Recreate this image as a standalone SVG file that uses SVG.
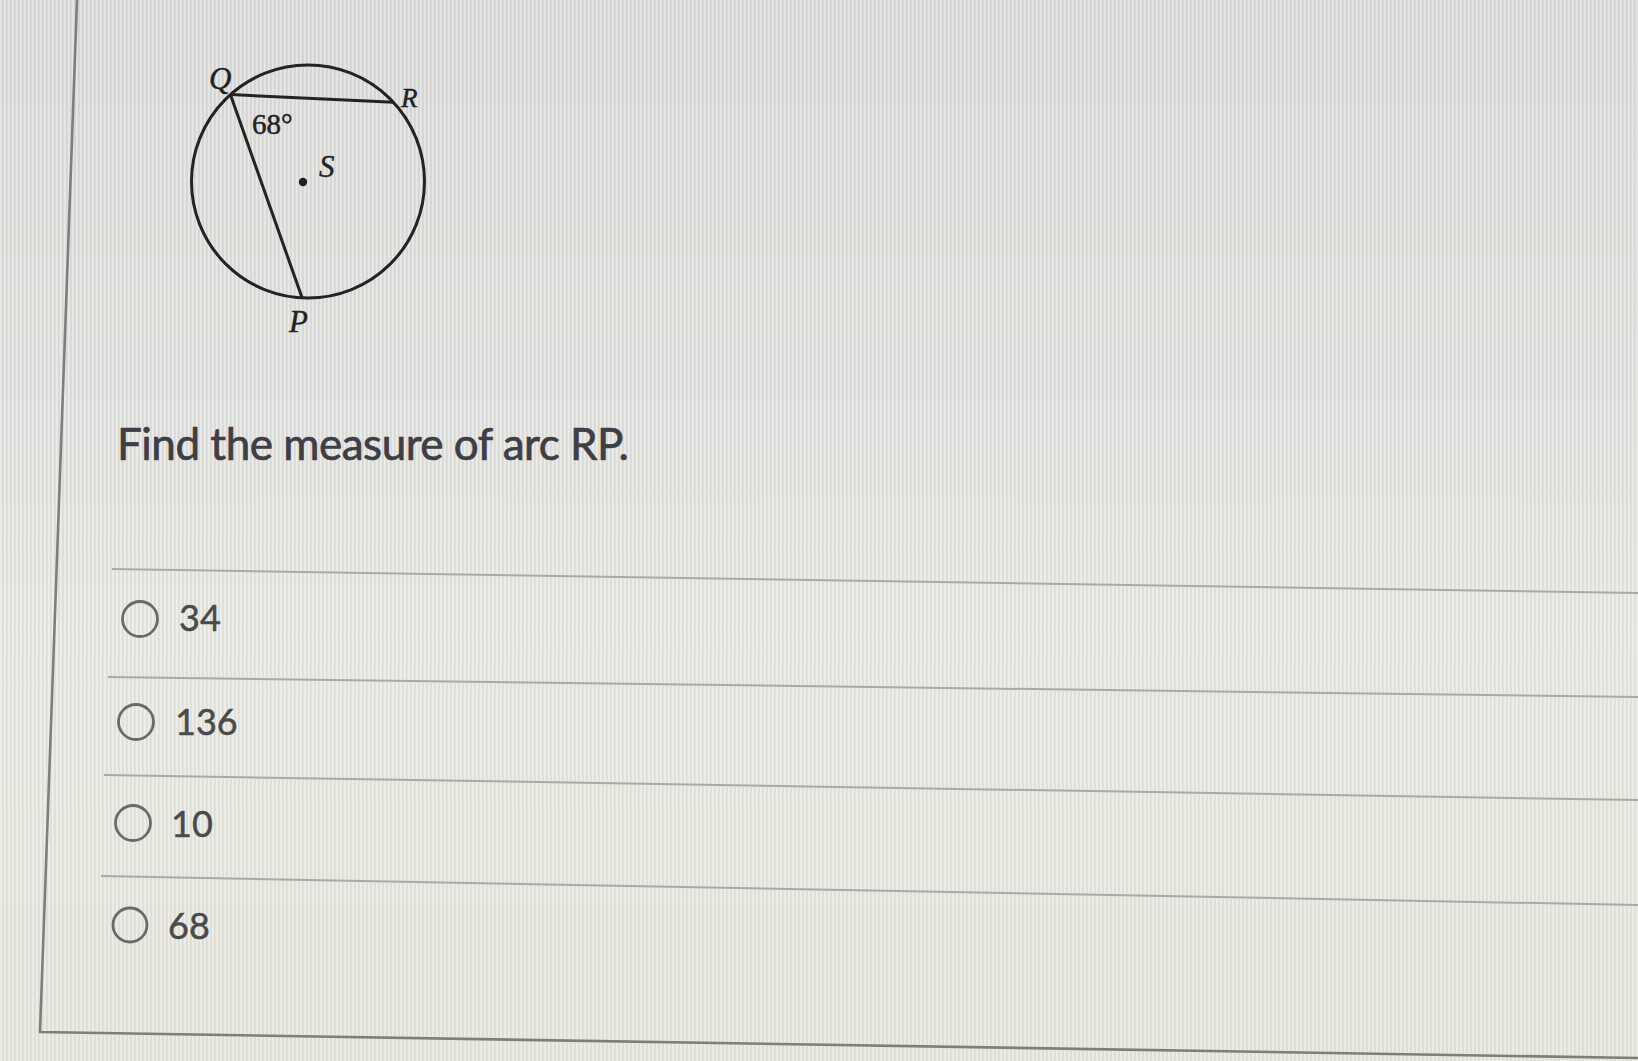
<svg xmlns="http://www.w3.org/2000/svg" width="1638" height="1061" viewBox="0 0 1638 1061">
  <defs>
    <linearGradient id="bg" x1="0" y1="0" x2="0" y2="1">
      <stop offset="0" stop-color="#d8d8d7"/>
      <stop offset="0.4" stop-color="#dfdfdc"/>
      <stop offset="0.6" stop-color="#e6e6e0"/>
      <stop offset="1" stop-color="#e4e4da"/>
    </linearGradient>
    <pattern id="stripes" width="4" height="8" patternUnits="userSpaceOnUse">
      <rect x="0" y="0" width="1.6" height="8" fill="#ffffff" opacity="0.35"/>
      <rect x="2.4" y="0" width="1" height="8" fill="#9a9a90" opacity="0.12"/>
    </pattern>
    <style>
      .label { font-family: "Liberation Serif", "Times New Roman", serif; font-style: italic; fill: #222; stroke: #222; stroke-width: 0.4; }
      .deg { font-family: "Liberation Serif", "Times New Roman", serif; fill: #222; stroke: #222; stroke-width: 0.5; }
      .q { font-family: Lato, "Liberation Sans", sans-serif; fill: #3e3e44; stroke: #3e3e44; stroke-width: 0.7; }
      .opt { font-family: Lato, "Liberation Sans", sans-serif; fill: #4a4a4a; stroke: #4a4a4a; stroke-width: 0.5; font-size: 36px; }
      .radio { fill: none; stroke: #6a6a6a; stroke-width: 2.8; }
      .sep { stroke: #a9a9a9; stroke-width: 2; fill: none; }
      .geo { stroke: #232323; stroke-width: 3; fill: none; }
    </style>
  </defs>

  <rect width="1638" height="1061" fill="url(#bg)"/>
  <rect width="1638" height="1061" fill="url(#stripes)"/>

  <!-- card border -->
  <g id="card">
    <path d="M77 0 L40 1032 L1638 1058" fill="none" stroke="#7e7e7e" stroke-width="2.6"/>
  </g>

  <!-- circle figure -->
  <g id="circle-S">
    <circle cx="308" cy="181.5" r="116.5" class="geo"/>
    <circle cx="303" cy="182" r="4.2" fill="#222"/>
  </g>
  <g id="connectors">
    <line x1="230.4" y1="94.6" x2="393.4" y2="102.2" class="geo"/>
    <line x1="230.4" y1="94.6" x2="302" y2="297.5" class="geo"/>
  </g>
  <g id="label-Q"><text x="209" y="89" class="label" font-size="31">Q</text></g>
  <g id="label-R"><text x="401" y="107" class="label" font-size="27">R</text></g>
  <g id="label-S"><text x="319" y="177" class="label" font-size="31">S</text></g>
  <g id="label-P"><text x="289" y="332" class="label" font-size="31">P</text></g>
  <g id="label-angle"><text x="252" y="134" class="deg" font-size="29">68°</text></g>

  <!-- question -->
  <g id="question">
    <text x="117" y="460" class="q" font-size="44" textLength="512">Find the measure of arc RP.</text>
  </g>

  <!-- separators -->
  <g id="separators">
    <line x1="112" y1="569" x2="1638" y2="593" class="sep"/>
    <line x1="108" y1="677" x2="1638" y2="697" class="sep"/>
    <line x1="104" y1="775" x2="1638" y2="800" class="sep"/>
    <line x1="101" y1="876" x2="1638" y2="905" class="sep"/>
  </g>

  <!-- options -->
  <g id="option-34">
    <circle cx="140" cy="619" r="17.5" class="radio"/>
    <text x="179" y="631" class="opt">34</text>
  </g>
  <g id="option-136">
    <circle cx="136" cy="722" r="17.5" class="radio"/>
    <text x="175" y="735" class="opt">136</text>
  </g>
  <g id="option-10">
    <circle cx="133" cy="823" r="17.5" class="radio"/>
    <text x="171" y="837" class="opt">10</text>
  </g>
  <g id="option-68">
    <circle cx="130" cy="925" r="17" class="radio"/>
    <text x="168" y="939" class="opt">68</text>
  </g>
</svg>
